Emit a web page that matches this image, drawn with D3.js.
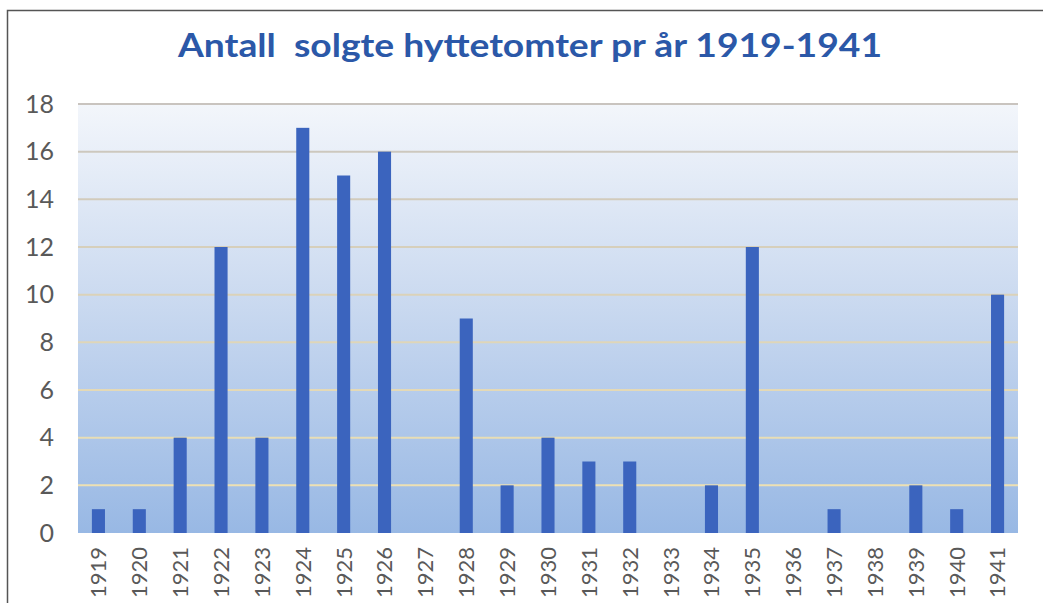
<!DOCTYPE html>
<html><head><meta charset="utf-8">
<script src="https://cdn.jsdelivr.net/npm/d3@7"></script>
<style>body{margin:0;background:#fff}svg{display:block}</style>
</head><body>
<script>
const years = ["1919","1920","1921","1922","1923","1924","1925","1926","1927","1928","1929","1930","1931","1932","1933","1934","1935","1936","1937","1938","1939","1940","1941"];
const sold = [1,1,4,12,4,17,15,16,0,9,2,4,3,3,0,2,12,0,1,0,2,1,10];
const yTicks = [0,2,4,6,8,10,12,14,16,18];
const title = "Antall  solgte hyttetomter pr år 1919-1941";

const W = 1043, H = 603;
const m = {left:78, right:1018, top:104, bottom:533};
const svg = d3.select("body").append("svg").attr("width", W).attr("height", H);

const defs = svg.append("defs");
const g = defs.append("linearGradient").attr("id","bg").attr("x1",0).attr("y1",0).attr("x2",0).attr("y2",1);
g.append("stop").attr("offset","0%").attr("stop-color","#f3f6fb");
g.append("stop").attr("offset","45%").attr("stop-color","#cbdaf0");
g.append("stop").attr("offset","100%").attr("stop-color","#98b8e4");

// frame
svg.append("path").attr("d",`M7.5,${H} L7.5,10.5 L${W},10.5`).attr("fill","none").attr("stroke","#555").attr("stroke-width",1.5);

const x = d3.scaleBand().domain(years).range([m.left, m.right]).paddingInner(0.68).paddingOuter(0.34);
const y = d3.scaleLinear().domain([0,18]).range([m.bottom, m.top]);

svg.append("rect").attr("x",m.left).attr("y",m.top).attr("width",m.right-m.left).attr("height",m.bottom-m.top).attr("fill","url(#bg)");

const gridCol = d3.scaleLinear().domain([0,18]).range(["#f1e4b2","#c9c4bf"]);
svg.append("g").selectAll("line").data(yTicks.filter(d=>d>0)).join("line")
  .attr("x1",m.left).attr("x2",m.right)
  .attr("y1",d=>y(d)).attr("y2",d=>y(d))
  .attr("stroke",d=>gridCol(d)).attr("stroke-width",2);

svg.append("g").selectAll("rect").data(years).join("rect")
  .attr("x",d=>x(d)).attr("width",x.bandwidth())
  .attr("y",(d,i)=>y(sold[i])).attr("height",(d,i)=>y(0)-y(sold[i]))
  .attr("fill","#3b64be");

// y axis
const ya = svg.append("g").attr("transform",`translate(${m.left},0)`)
  .call(d3.axisLeft(y).tickValues(yTicks).tickSize(0).tickPadding(24));
ya.select(".domain").remove();
ya.selectAll("text").attr("font-family","Lato, sans-serif").attr("font-size",25).attr("fill","#595959");

// x axis
const xa = svg.append("g").attr("transform",`translate(0,${m.bottom})`)
  .call(d3.axisBottom(x).tickSize(0));
xa.select(".domain").remove();
xa.selectAll("text").attr("font-family","Lato, sans-serif").attr("font-size",22).attr("fill","#595959")
  .attr("transform","rotate(-90)").attr("text-anchor","end").attr("x",-14).attr("y",0).attr("dy","0.36em");

svg.append("text").attr("x",530).attr("y",57).attr("text-anchor","middle")
  .attr("font-family","Lato, sans-serif").attr("font-weight","bold").attr("font-size",33)
  .attr("fill","#2b58a8").attr("textLength",704).attr("lengthAdjust","spacingAndGlyphs")
  .style("white-space","pre").text(title);
</script>
</body></html>
